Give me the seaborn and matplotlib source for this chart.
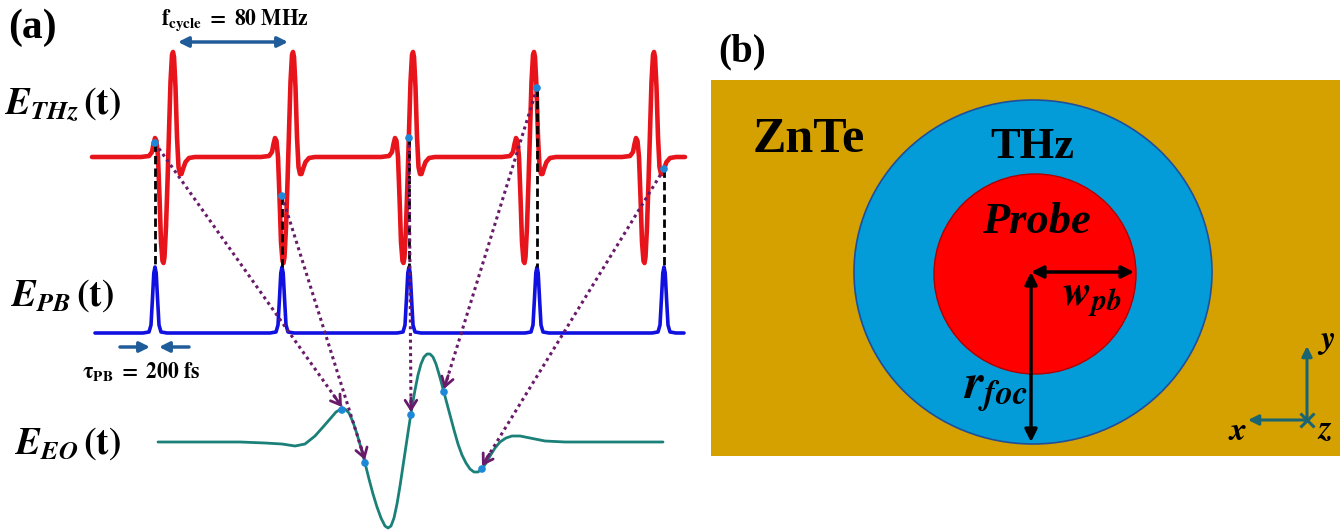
import numpy as np
import matplotlib
matplotlib.use('Agg')
import matplotlib.pyplot as plt
from matplotlib.patches import Ellipse, Rectangle
import seaborn as sns

# --- Data (in pixel units of the original figure) ---
# THz pulse shape around its main peak: delay offset and amplitude
THZ_DT = [-32, -24, -21, -19.5, -18, -16.5, -15, -13.5, -12, -10.5, -9.5, -8.5, -7,
          -5.5, -4, -2.5, -1, 0, 1, 2.5, 4, 5.5, 7, 8.5, 10, 12.5, 16, 22]
THZ_AMP = [0, 1, 5, 13, 19, 16, 0, -40, -85, -104, -106, -100, -70,
           -25, 25, 75, 102, 105, 100, 70, 20, -10, -17, -17, -12, -5, -1, 0]
THZ_CENTERS = [173, 293, 413, 534, 654]
THZ_SPAN = (92, 685)

# probe pulse shape
PB_DT = [-12, -6, -4, -2.5, -1.2, 0, 1.2, 2.5, 4, 6, 12]
PB_AMP = [0, 1, 8, 35, 60, 66, 60, 35, 8, 1, 0]
PB_CENTERS = [155, 282, 409, 537, 664]
PB_SPAN = (95, 684)

# sampled THz value seen by each probe pulse
SAMPLE_AMP = [14, -39, 19, 69, -12]

# electro-optic signal
EO_X = [158, 240, 265, 282, 295, 305, 315, 323, 330, 336, 341, 345, 349, 353, 357,
        361, 365, 369, 373, 377, 381, 385, 388, 391, 394, 397, 400, 403, 406, 409,
        412, 415, 418, 421, 424, 427, 430, 433, 436, 439, 442, 446, 450, 454, 458,
        462, 466, 470, 474, 478, 482, 486, 490, 495, 500, 506, 512, 520, 530, 545,
        565, 663]
EO_AMP = [0, 0, -1, -2, -4, -2, 6, 15, 23, 30, 33, 33, 29, 20, 8,
          -6, -21, -37, -52, -65, -76, -84, -86, -84, -76, -62, -44, -24, -4, 16,
          35, 52, 67, 78, 85, 88, 88, 85, 78, 68, 57, 42, 27, 12, -2,
          -13, -21, -27, -30, -30, -27, -21, -14, -6, 0, 4, 6, 6, 4, 1,
          0, 0]
EO_SAMPLE_X = [342, 365, 411, 444, 482]
EO_SAMPLE_AMP = [32, -21, 27, 50, -27]

# baselines of the three traces
THZ_BASE, PB_BASE, EO_BASE = 157, 333, 442

# panel (b) geometry
CRYSTAL = (711, 80, 629, 376)          # x, y, width, height
SPOT_CENTER = (1033, 272)
THZ_RADII = (179, 172)
PROBE_RADII = (101, 100)

# --- Colors ---
RED = '#E8141B'
BLUE = '#1010E0'
TEAL = '#1A8078'
DOT = '#1E88D8'
PURPLE = '#6A1A6A'
ARROW_BLUE = '#1F5C99'
GOLD = '#D4A100'
SKY = '#039BD8'
TRIAD = '#1B6573'

sns.set_theme(style='white')
plt.rcParams['font.family'] = ['Liberation Serif', 'DejaVu Serif']
plt.rcParams['mathtext.fontset'] = 'stix'
plt.rcParams['text.color'] = 'black'

fig = plt.figure(figsize=(13.43, 5.30), dpi=100)
ax = fig.add_axes([0, 0, 1, 1])
ax.set_xlim(0, 1343)
ax.set_ylim(530, 0)
ax.axis('off')

# --- Panel (a): traces ---
thz_x = [THZ_SPAN[0]]
thz_y = [THZ_BASE]
for c in THZ_CENTERS:
    thz_x += [c + d for d in THZ_DT]
    thz_y += [THZ_BASE - a for a in THZ_AMP]
thz_x.append(THZ_SPAN[1])
thz_y.append(THZ_BASE)
sns.lineplot(x=thz_x, y=thz_y, ax=ax, color=RED, lw=3.3, sort=False, estimator=None)

pb_x = [PB_SPAN[0]]
pb_y = [PB_BASE]
for c in PB_CENTERS:
    pb_x += [c + d for d in PB_DT]
    pb_y += [PB_BASE - a for a in PB_AMP]
pb_x.append(PB_SPAN[1])
pb_y.append(PB_BASE)
sns.lineplot(x=pb_x, y=pb_y, ax=ax, color=BLUE, lw=2.6, sort=False, estimator=None)

sns.lineplot(x=EO_X, y=[EO_BASE - a for a in EO_AMP], ax=ax, color=TEAL, lw=2.0,
             sort=False, estimator=None)

# dashed lines from probe peaks up to the sampled THz field
pb_peak = PB_BASE - max(PB_AMP)
for x, a in zip(PB_CENTERS, SAMPLE_AMP):
    ax.plot([x, x], [THZ_BASE - a, pb_peak], color='black', lw=2.0,
            linestyle=(0, (3, 1.5)), zorder=3)

# dotted purple mapping arrows
for x0, a0, x1, a1 in zip(PB_CENTERS, SAMPLE_AMP, EO_SAMPLE_X, EO_SAMPLE_AMP):
    y0 = THZ_BASE - a0
    y1 = EO_BASE - a1 - 3
    ax.plot([x0, x1], [y0, y1], color=PURPLE, lw=2.2, linestyle=(0, (1, 1.2)), zorder=4)
    d = np.hypot(x1 - x0, y1 - y0)
    bx, by = x1 - (x1 - x0) / d * 14, y1 - (y1 - y0) / d * 14
    ax.annotate('', xy=(x1, y1), xytext=(bx, by),
                arrowprops=dict(arrowstyle='->,head_length=0.55,head_width=0.35',
                                color=PURPLE, lw=2.0, shrinkA=0, shrinkB=0), zorder=4)

sns.scatterplot(x=PB_CENTERS, y=[THZ_BASE - a for a in SAMPLE_AMP], ax=ax,
                color=DOT, s=30, edgecolor='none', zorder=5)
sns.scatterplot(x=EO_SAMPLE_X, y=[EO_BASE - a for a in EO_SAMPLE_AMP], ax=ax,
                color=DOT, s=30, edgecolor='none', zorder=5)

# annotations in (a)
ax.text(8, 28, '(a)', fontsize=30, fontweight='bold', va='center', ha='left')
ax.text(235, 20, r'$\mathbf{f_{cycle}\ =\ 80\ MHz}$', fontsize=15.5, ha='center',
        va='center')
ax.annotate('', xy=(178, 42), xytext=(288, 42),
            arrowprops=dict(arrowstyle='<|-|>,head_length=0.5,head_width=0.25',
                            color=ARROW_BLUE, lw=2.5, shrinkA=0, shrinkB=0))
ax.annotate('', xy=(150, 347), xytext=(120, 347),
            arrowprops=dict(arrowstyle='-|>,head_length=0.5,head_width=0.25',
                            color=ARROW_BLUE, lw=2.5, shrinkA=0, shrinkB=0))
ax.annotate('', xy=(159, 347), xytext=(189, 347),
            arrowprops=dict(arrowstyle='-|>,head_length=0.5,head_width=0.25',
                            color=ARROW_BLUE, lw=2.5, shrinkA=0, shrinkB=0))
ax.text(141, 372, r'$\mathbf{\tau_{PB}\ =\ 200\ fs}$', fontsize=15.5, ha='center',
        va='center')

ax.text(4, 104, r'$\mathbfit{E}_{\mathbfit{THz}}\,\mathbf{(t)}$', fontsize=27,
        ha='left', va='center')
ax.text(10, 296, r'$\mathbfit{E}_{\mathbfit{PB}}\,\mathbf{(t)}$', fontsize=27,
        ha='left', va='center')
ax.text(14, 444, r'$\mathbfit{E}_{\mathbfit{EO}}\,\mathbf{(t)}$', fontsize=27,
        ha='left', va='center')

# --- Panel (b): spot diagram ---
ax.add_patch(Rectangle(CRYSTAL[:2], CRYSTAL[2], CRYSTAL[3], facecolor=GOLD,
                       edgecolor='none', zorder=1))
ax.add_patch(Ellipse(SPOT_CENTER, 2 * THZ_RADII[0], 2 * THZ_RADII[1], facecolor=SKY,
                     edgecolor='#1F4F9A', lw=1.2, zorder=2))
ax.add_patch(Ellipse((SPOT_CENTER[0] + 2, SPOT_CENTER[1] + 2), 2 * PROBE_RADII[0],
                     2 * PROBE_RADII[1], facecolor='#FF0000', edgecolor='#B00000',
                     lw=1.0, zorder=3))

ax.annotate('', xy=(SPOT_CENTER[0] + PROBE_RADII[0], 272), xytext=(SPOT_CENTER[0] - 2, 272),
            arrowprops=dict(arrowstyle='<|-|>,head_length=0.6,head_width=0.3',
                            color='black', lw=2.5, shrinkA=0, shrinkB=0), zorder=6)
ax.annotate('', xy=(SPOT_CENTER[0] - 2, SPOT_CENTER[1] + THZ_RADII[1] - 2),
            xytext=(SPOT_CENTER[0] - 2, 272),
            arrowprops=dict(arrowstyle='<|-|>,head_length=0.6,head_width=0.3',
                            color='black', lw=2.5, shrinkA=0, shrinkB=0), zorder=6)

ax.text(718, 52, '(b)', fontsize=28, fontweight='bold', va='center', ha='left')
ax.text(809, 140, 'ZnTe', fontsize=36, fontweight='bold', ha='center', va='center', zorder=6)
ax.text(1032, 147, 'THz', fontsize=32, fontweight='bold', ha='center', va='center', zorder=6)
ax.text(1036, 222, 'Probe', fontsize=32, fontweight='bold', fontstyle='italic',
        ha='center', va='center', zorder=6)
ax.text(1092, 300, r'$\mathbfit{w}_{\mathbfit{pb}}$', fontsize=31, ha='center',
        va='center', zorder=6)
ax.text(995, 392, r'$\mathbfit{r}_{\mathbfit{foc}}$', fontsize=35, ha='center',
        va='center', zorder=6)

# coordinate triad
ox, oy = 1307, 420
ax.annotate('', xy=(ox, 346), xytext=(ox, oy),
            arrowprops=dict(arrowstyle='-|>,head_length=0.5,head_width=0.25',
                            color=TRIAD, lw=2.2, shrinkA=0, shrinkB=0), zorder=6)
ax.annotate('', xy=(1248, oy), xytext=(ox, oy),
            arrowprops=dict(arrowstyle='-|>,head_length=0.5,head_width=0.25',
                            color=TRIAD, lw=2.2, shrinkA=0, shrinkB=0), zorder=6)
ax.plot([ox], [oy], marker='x', markersize=10, mew=2.2, color=TRIAD, zorder=6)
ax.text(1326, 342, r'$\mathbfit{y}$', fontsize=24, ha='center', va='center', zorder=6)
ax.text(1238, 432, r'$\mathbfit{x}$', fontsize=24, ha='center', va='center', zorder=6)
ax.text(1325, 430, r'$\mathbfit{z}$', fontsize=24, ha='center', va='center', zorder=6)

fig.savefig('out.png', dpi=100)
